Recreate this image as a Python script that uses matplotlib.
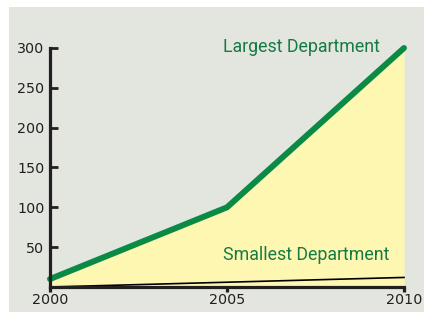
import matplotlib
matplotlib.use("Agg")
import matplotlib.pyplot as plt
from matplotlib.patches import Rectangle

# data
years = [2000, 2005, 2010]
largest = [10, 100, 300]
smallest = [0, 6, 12]
yticks = [50, 100, 150, 200, 250, 300]
xticks = [2000, 2005, 2010]

green = "#0b8a46"
text_green = "#177a44"
ink = "#231f20"

W, H = 424, 312
fig = plt.figure(figsize=(W / 100, H / 100), dpi=100, facecolor="white")
# grey panel behind the chart
fig.patches.append(Rectangle((9 / W, 0), 1, (H - 7) / H, transform=fig.transFigure,
                             facecolor="#e2e6df", edgecolor="none", zorder=-5))

ax = fig.add_axes([50 / W, 25 / H, 354 / W, 239 / H])
ax.set_facecolor("none")

ax.fill_between(years, largest, 0, color="#fef7b2", lw=0, zorder=1)
ax.plot(years, smallest, color="black", lw=1.2, zorder=2, clip_on=False)
ax.plot(years, largest, color=green, lw=4.3, solid_capstyle="round",
        zorder=3, clip_on=False)

ax.set_xlim(2000, 2010)
ax.set_ylim(0, 300)

for s in ["top", "right"]:
    ax.spines[s].set_visible(False)
for s in ["left", "bottom"]:
    ax.spines[s].set_linewidth(2.3)
    ax.spines[s].set_color(ink)
    ax.spines[s].set_zorder(4)

ax.set_yticks(yticks)
ax.set_xticks(xticks)
ax.tick_params(axis="y", direction="in", length=6, width=2, color=ink,
               labelcolor=ink, labelsize=10.3, pad=4)
ax.tick_params(axis="x", direction="out", length=3.5, width=2.3, color=ink,
               labelcolor=ink, labelsize=10.3, pad=0.5)

ax.text(2004.9, 301, "Largest Department", color=text_green, fontsize=12.8,
        family="Roboto", va="center", ha="left")
ax.text(2004.9, 40, "Smallest Department", color=text_green, fontsize=12.8,
        family="Roboto", va="center", ha="left")

fig.savefig("out.png", dpi=100, facecolor="white")
